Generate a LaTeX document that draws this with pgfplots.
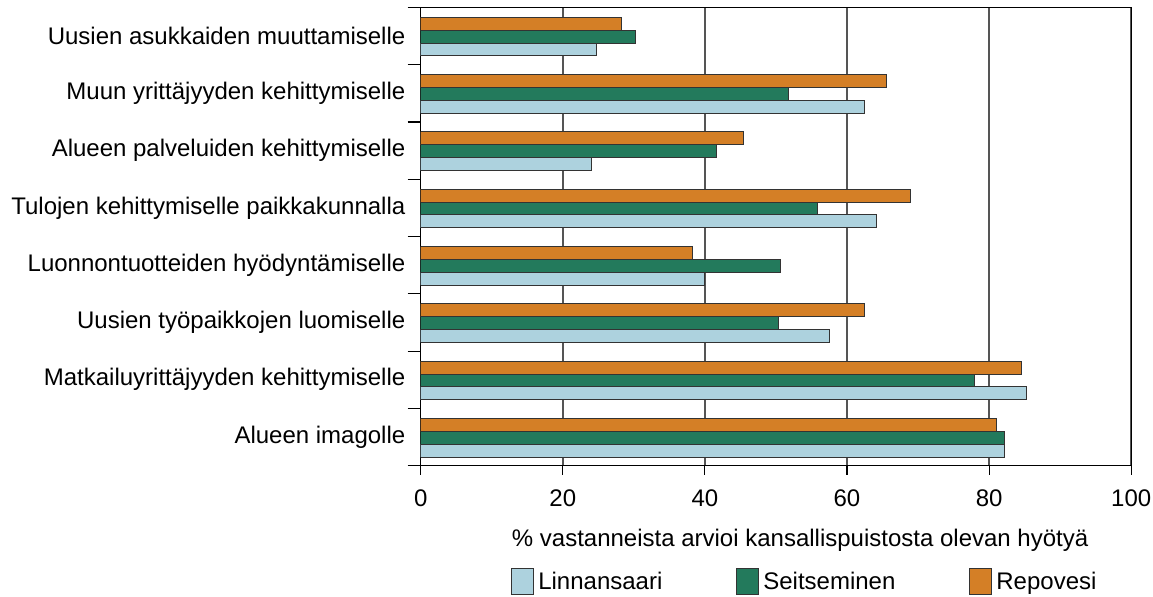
\documentclass[border=0pt]{standalone}
\usepackage{fontspec}
\setmainfont{Liberation Sans}
\usepackage{pgfplots}
\pgfplotsset{compat=1.18}
\definecolor{cLinn}{HTML}{ADD2DE}
\definecolor{cSeit}{HTML}{237A5C}
\definecolor{cRep}{HTML}{D47F26}
\definecolor{cGrid}{HTML}{555555}
\begin{document}
\fontsize{12bp}{14.4bp}\selectfont
\begin{tikzpicture}
\useasboundingbox (-210.35bp,-65.65bp) rectangle (366.15bp,232.85bp);
\begin{axis}[
  at={(0,0)}, anchor=south west,
  scale only axis,
  width=355.25bp, height=229.2bp,
  xbar, bar width=0.225,
  y dir=reverse,
  xmin=0, xmax=100, ymin=-0.5, ymax=7.5,
  xtick={0,20,...,100},
  ytick={0,...,7},
  yticklabels={Uusien asukkaiden muuttamiselle,Muun yrittäjyyden kehittymiselle,Alueen palveluiden kehittymiselle,Tulojen kehittymiselle paikkakunnalla,Luonnontuotteiden hyödyntämiselle,Uusien työpaikkojen luomiselle,Matkailuyrittäjyyden kehittymiselle,Alueen imagolle},
  minor ytick={-0.5,0.5,...,7.5},
  tick align=outside,
  major tick length=4.5bp,
  minor tick length=6.5bp,
  every major y tick/.style={draw=none},
  every minor y tick/.style={black, line width=0.6bp},
  every major x tick/.style={black, line width=0.6bp},
  xtick pos=bottom, ytick pos=left,
  xticklabel style={yshift=-3.5bp},
  yticklabel style={xshift=1bp},
  xmajorgrids,
  major x grid style={cGrid, line width=0.8bp},
  axis line style={black, line width=0.7bp},
  /pgf/number format/assume math mode=true,
  xlabel={\% vastanneista arvioi kansallispuistosta olevan hyötyä},
  xlabel style={at={(axis description cs:0.534,-0.162)}, anchor=center},
  legend columns=3,
  legend style={draw=none, fill=none, at={(axis description cs:0.127,-0.254)}, anchor=west, inner sep=0pt,
    /tikz/every even column/.append style={column sep=35bp}},
  legend image code/.code={\draw[#1, bar shift=0pt] (0bp,-6bp) rectangle (11bp,7bp);},
]
\addplot[fill=cLinn, draw=black!80, line width=0.5bp, bar shift=0.237] coordinates {
(24.8,0) (62.4,1) (24.1,2) (64.1,3) (40.0,4) (57.6,5) (85.2,6) (82.1,7)};
\addlegendentry{Linnansaari}
\addplot[fill=cSeit, draw=black!80, line width=0.5bp, bar shift=0.012] coordinates {
(30.3,0) (51.7,1) (41.7,2) (55.9,3) (50.6,4) (50.3,5) (77.9,6) (82.1,7)};
\addlegendentry{Seitseminen}
\addplot[fill=cRep, draw=black!80, line width=0.5bp, bar shift=-0.213] coordinates {
(28.2,0) (65.5,1) (45.5,2) (68.9,3) (38.3,4) (62.4,5) (84.5,6) (81.0,7)};
\addlegendentry{Repovesi}
\end{axis}
\end{tikzpicture}
\end{document}
